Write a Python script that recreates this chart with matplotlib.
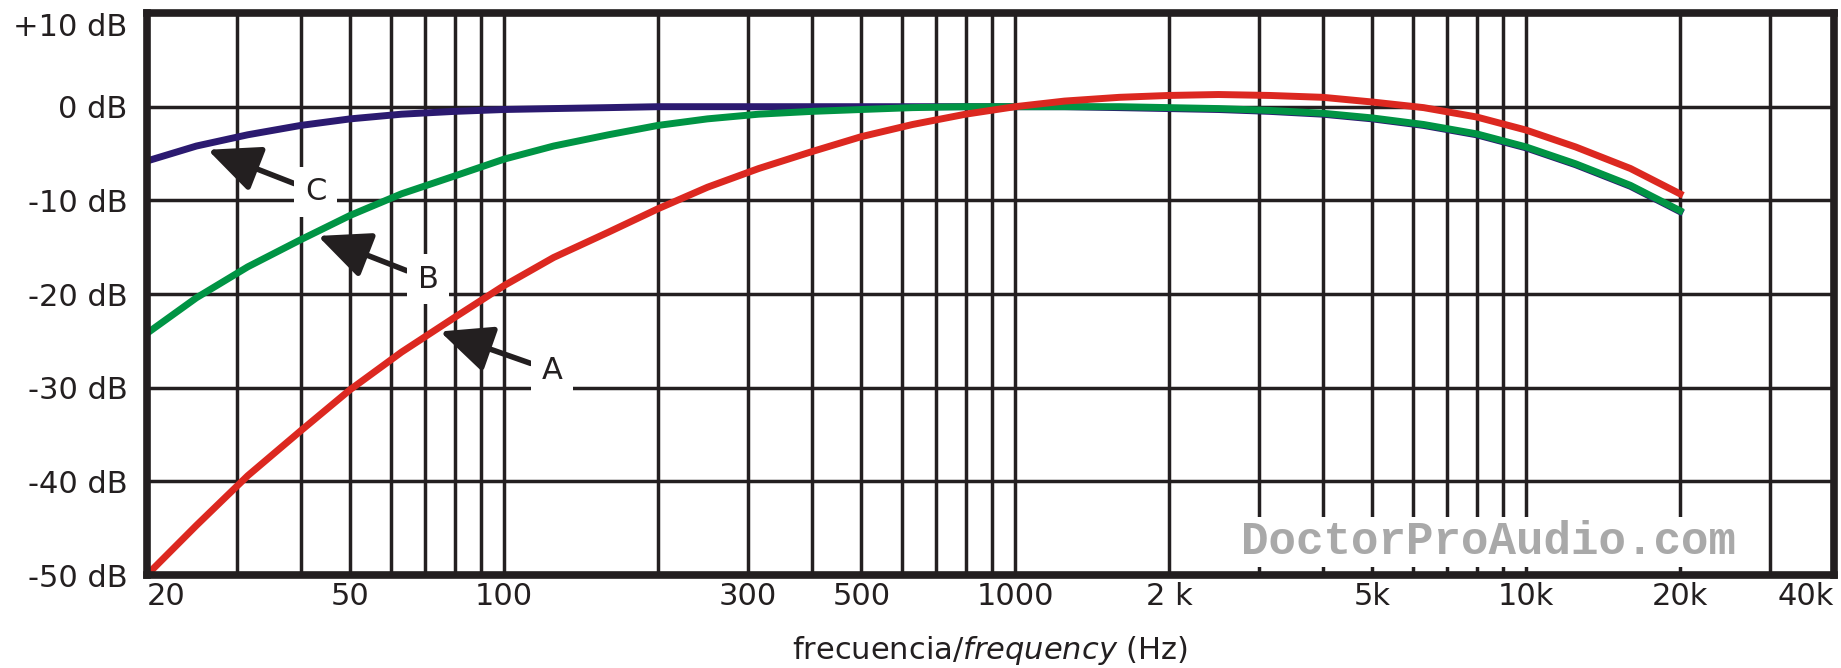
import matplotlib
matplotlib.use("Agg")
import matplotlib.pyplot as plt
from matplotlib.ticker import FixedLocator, NullFormatter

# third-octave frequencies and weighting values
freq_hz = [20, 25, 31.5, 40, 50, 63, 80, 100, 125, 160, 200, 250, 315, 400, 500,
           630, 800, 1000, 1250, 1600, 2000, 2500, 3150, 4000, 5000, 6300, 8000,
           10000, 12500, 16000, 20000]
a_db = [-50.0, -44.7, -39.4, -34.6, -30.2, -26.2, -22.5, -19.1, -16.1, -13.4, -10.9,
        -8.6, -6.6, -4.8, -3.2, -1.9, -0.8, 0.0, 0.6, 1.0, 1.2, 1.3, 1.2, 1.0, 0.5,
        -0.1, -1.1, -2.5, -4.3, -6.6, -9.3]
b_db = [-24.2, -20.4, -17.1, -14.2, -11.6, -9.3, -7.4, -5.6, -4.2, -3.0, -2.0, -1.3,
        -0.8, -0.5, -0.3, -0.1, 0.0, 0.0, 0.0, 0.0, -0.1, -0.2, -0.4, -0.7, -1.2,
        -1.9, -2.9, -4.3, -6.1, -8.4, -11.1]
c_db = [-5.8, -4.2, -3.0, -2.0, -1.3, -0.8, -0.5, -0.3, -0.2, -0.1, 0.0, 0.0, 0.0,
        0.0, 0.0, 0.0, 0.0, 0.0, 0.0, -0.1, -0.2, -0.3, -0.5, -0.8, -1.3, -2.0,
        -3.0, -4.4, -6.2, -8.5, -11.2]

x_tick_vals = [20, 50, 100, 300, 500, 1000, 2000, 5000, 10000, 20000, 40000]
x_tick_text = ["20", "50", "100", "300", "500", "1000", "2 k", "5k", "10k", "20k", "40k"]
grid_hz = [30, 40, 60, 70, 80, 90, 200, 400, 600, 700, 800, 900,
           3000, 4000, 6000, 7000, 8000, 9000, 30000]
y_tick_vals = [-50, -40, -30, -20, -10, 0, 10]
y_tick_text = ["-50 dB", "-40 dB", "-30 dB", "-20 dB", "-10 dB", "0 dB", "+10 dB"]

ink = "#231f20"
red = "#dc2820"
green = "#009444"
navy = "#2b1a70"

fig = plt.figure(figsize=(18.41, 6.68), dpi=100)
ax = fig.add_axes([0.0798, 0.1392, 0.9163, 0.8413])
ax.set_xscale("log")

ax.plot(freq_hz, c_db, color=navy, lw=5)
ax.plot(freq_hz, b_db, color=green, lw=5)
ax.plot(freq_hz, a_db, color=red, lw=5)

ax.set_xlim(20, 40000)
ax.set_ylim(-50, 10)

ax.xaxis.set_major_locator(FixedLocator(x_tick_vals))
ax.set_xticklabels(x_tick_text)
ax.xaxis.set_minor_locator(FixedLocator(grid_hz))
ax.xaxis.set_minor_formatter(NullFormatter())
ax.set_yticks(y_tick_vals, y_tick_text)

ax.grid(True, which="both", color=ink, lw=2.5)
ax.set_axisbelow(True)
ax.tick_params(which="both", length=0, labelsize=22, colors=ink)
ax.tick_params(axis="x", pad=5)
ax.tick_params(axis="y", pad=14)
for sp in ax.spines.values():
    sp.set_linewidth(5.5)
    sp.set_color(ink)

xl = ax.get_xticklabels()
xl[0].set_ha("left")
xl[-1].set_ha("right")
ax.get_yticklabels()[-1].set_va("top")

ax.set_xlabel(r"frecuencia/$\mathit{frequency}$ (Hz)", fontsize=22, color=ink)
ax.xaxis.set_label_coords(0.5, -0.105)

# curve labels with arrows
notes = {"A": ((74.9, -24.0), (124, -28.2)),
         "B": ((43.2, -13.8), (71, -18.4)),
         "C": ((26.3, -4.6), (42.8, -9.1))}
for name, (tip, txt) in notes.items():
    ax.annotate(name, xy=tip, xytext=txt, ha="center", va="center",
                fontsize=22, color=ink,
                bbox=dict(boxstyle="square,pad=0.35", fc="white", ec="none"),
                arrowprops=dict(arrowstyle="-|>,head_length=1.0,head_width=0.45",
                                mutation_scale=32, lw=4, color=ink,
                                shrinkA=0, shrinkB=0))

ax.text(0.795, 0.0587, "DoctorProAudio.com", transform=ax.transAxes,
        ha="center", va="center", family="Liberation Mono", weight="bold",
        size=33, color="#a9a9a9",
        bbox=dict(fc="white", ec="none", pad=2))

fig.savefig("out.png", dpi=100)
